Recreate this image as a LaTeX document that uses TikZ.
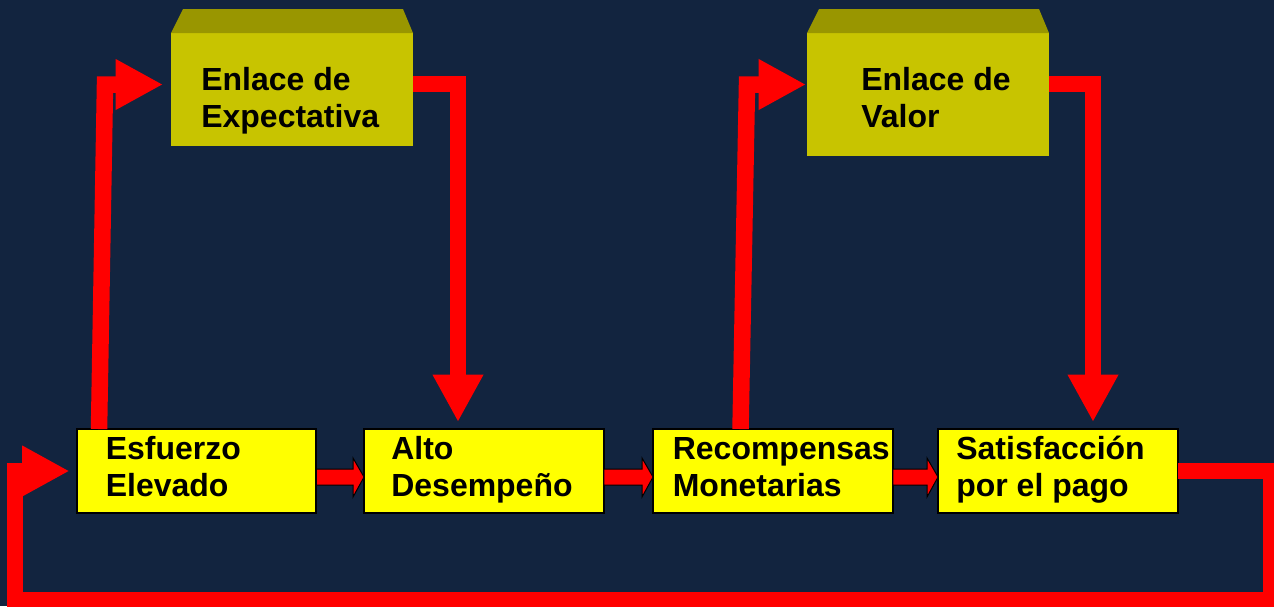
\documentclass[tikz,border=0pt]{standalone}
\usepackage{fontspec}
\setmainfont{Liberation Sans}
\usepackage{tikz}
\usetikzlibrary{arrows.meta,calc}

\definecolor{navy}{RGB}{18,36,63}
\definecolor{boxyellow}{RGB}{255,255,0}
\definecolor{olivefront}{RGB}{200,196,0}
\definecolor{olivetop}{RGB}{153,150,0}
\definecolor{arrowred}{RGB}{255,0,0}

\tikzset{
	lowbox/.style={rectangle,fill=boxyellow,draw=black,line width=0.04cm,outer sep=0pt,minimum width=4.8cm,minimum height=1.68cm,inner sep=0pt},
	linkbox/.style={rectangle,fill=olivefront,outer sep=0pt,minimum width=4.84cm,inner sep=0pt},
	linktop/.style={fill=olivetop},
	boxtext/.style={anchor=base west,inner sep=0pt,align=left,text=black,font=\bfseries\fontsize{18.2pt}{21pt}\selectfont},
	flow/.style={draw=arrowred,line width=0.33cm,line join=miter,-{Triangle[length=0.95cm,width=0.95cm]}},
	blockarrow/.style={fill=arrowred,draw=black,line width=0.02cm,line join=miter}
}

\begin{document}
\begin{tikzpicture}[x=0.02cm,y=-0.02cm]
				\fill[navy] (0,0) rectangle (1274,606);
				\useasboundingbox (0,0) rectangle (1274,606);
				
				% lower row
				\node (esf) at (196.5,471) [lowbox] {};
				\node (alto) at (484,471) [lowbox] {};
				\node (rec) at (773,471) [lowbox] {};
				\node (sat) at (1058,471) [lowbox] {};
				
				% links on top
				\node (expb) at (292,89.5) [linkbox,minimum height=2.26cm] {};
				\node (valb) at (928,94.5) [linkbox,minimum height=2.46cm] {};
				\fill[linktop] (expb.north west) -- (expb.north east) -- ($(expb.north east)+(-10,-24)$) -- ($(expb.north west)+(12,-24)$) -- cycle;
				\fill[linktop] (valb.north west) -- (valb.north east) -- ($(valb.north east)+(-10,-24)$) -- ($(valb.north west)+(12,-24)$) -- cycle;
				
				% base is on the last line
				\node (esft) at (105.5,496) [boxtext] {Esfuerzo\\Elevado};
				\node (altot) at (391,496) [boxtext] {Alto\\Desempeño};
				\node (rect) at (672.5,496) [boxtext] {Recompensas\\Monetarias};
				\node (satt) at (956,496) [boxtext] {Satisfacción\\por el pago};
				\node (expt) at (201,127) [boxtext,font=\bfseries\fontsize{18.2pt}{20.5pt}\selectfont] {Enlace de\\Expectativa};
				\node (valt) at (861,127) [boxtext,font=\bfseries\fontsize{18.2pt}{20.5pt}\selectfont] {Enlace de\\Valor};
				
				% small arrows between the boxes
				\draw[blockarrow] ($(esf.east)+(0,-2)$) -- ($(alto.west)+(-11,-2)$) -- ($(alto.west)+(-11,-13)$) -- ($(alto.west)+(0,6)$) -- ($(alto.west)+(-11,26)$) -- ($(alto.west)+(-11,14)$) -- ($(esf.east)+(0,14)$) -- cycle;
				\draw[blockarrow] ($(alto.east)+(0,-2)$) -- ($(rec.west)+(-11,-2)$) -- ($(rec.west)+(-11,-13)$) -- ($(rec.west)+(0,6)$) -- ($(rec.west)+(-11,26)$) -- ($(rec.west)+(-11,14)$) -- ($(alto.east)+(0,14)$) -- cycle;
				\draw[blockarrow] ($(rec.east)+(0,-2)$) -- ($(sat.west)+(-11,-2)$) -- ($(sat.west)+(-11,-13)$) -- ($(sat.west)+(0,6)$) -- ($(sat.west)+(-11,26)$) -- ($(sat.west)+(-11,14)$) -- ($(rec.east)+(0,14)$) -- cycle;
				
				% red connectors
				\coordinate (c1) at (105,84.5);
				\coordinate (c2) at (458,84);
				\coordinate (c3) at (747,84.5);
				\coordinate (c4) at (1093,84);
				\coordinate (lr) at (1271,600);
				\coordinate (ll) at (15,600);
				
				\draw[flow,shorten >=0.16cm] ($(esf.north west)+(22.5,0)$) -- (c1) -- (c1 -| expb.west);
				\draw[flow,shorten >=0.14cm] (expb.east |- c2) -- (c2) -- (c2 |- alto.north);
				\draw[flow,shorten >=0.02cm] ($(rec.north west)+(87.5,0)$) -- (c3) -- (c3 -| valb.west);
				\draw[flow,shorten >=0.14cm] (valb.east |- c4) -- (c4) -- (c4 |- sat.north);
				\draw[flow,shorten >=0.14cm] (sat.east) -- (sat.east -| lr) -- (lr) -- (ll) -- (ll |- esf.west) -- (esf.west);
			\end{tikzpicture}
\end{document}
